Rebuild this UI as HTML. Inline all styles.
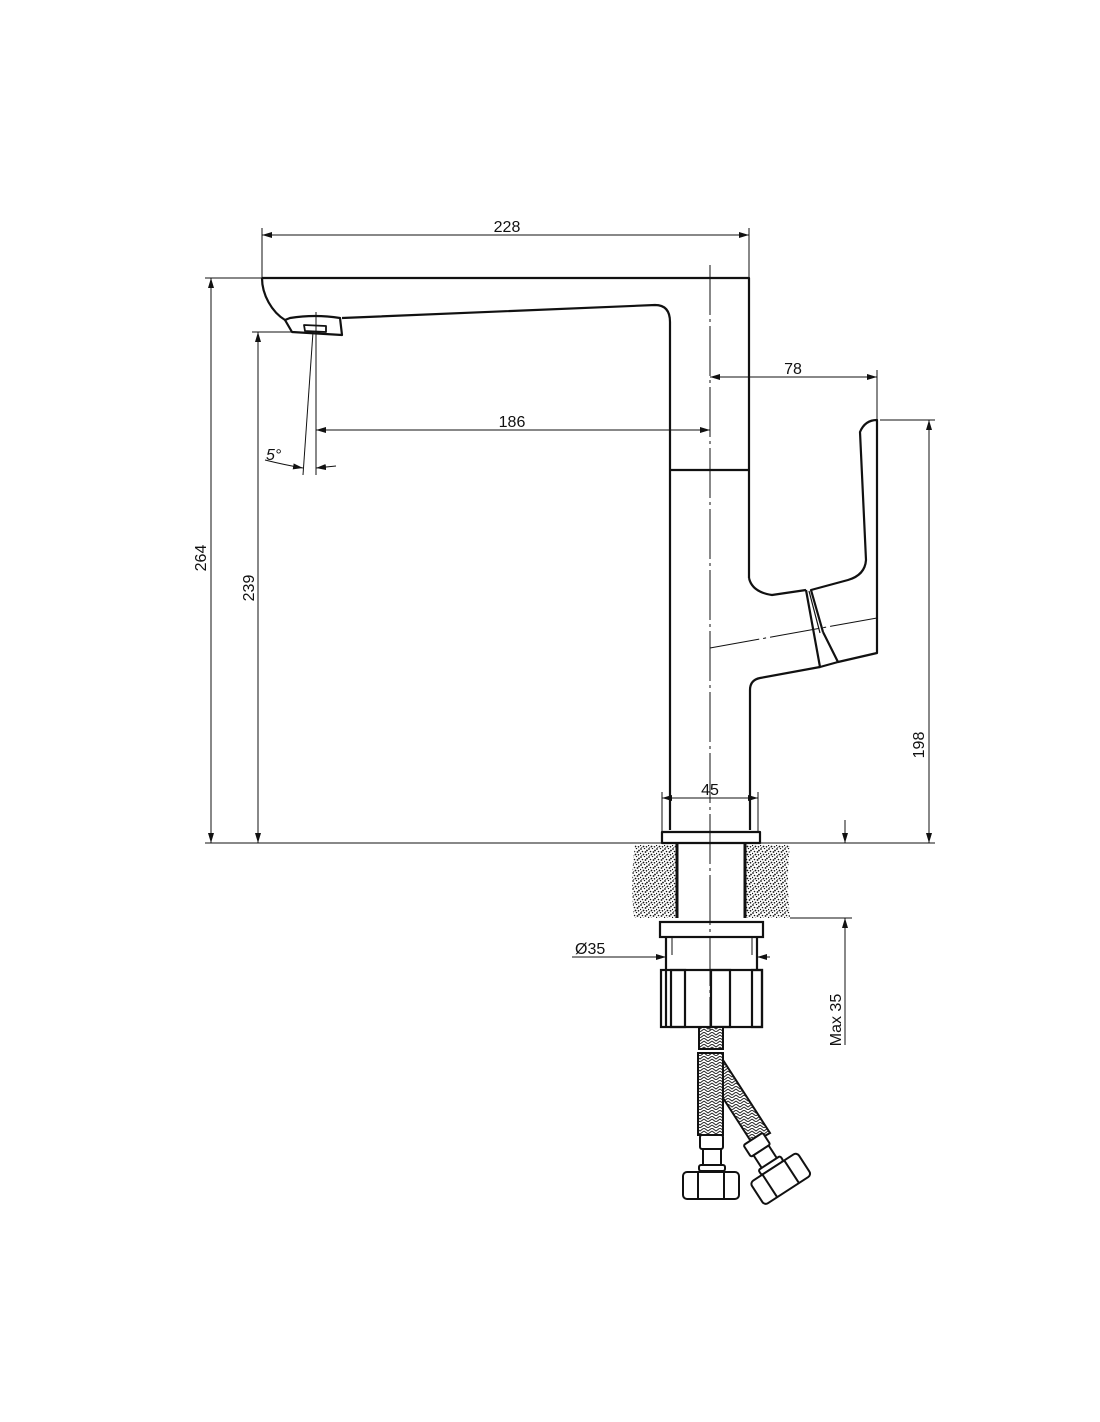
<!DOCTYPE html>
<html><head><meta charset="utf-8"><style>
html,body{margin:0;padding:0;background:#fff;}
svg{display:block;}
text{font-family:"Liberation Sans Narrow","Liberation Sans",sans-serif;font-size:16px;fill:#111;}
</style></head><body>
<svg width="1100" height="1422" viewBox="0 0 1100 1422" xmlns="http://www.w3.org/2000/svg">
<defs>
<marker id="a" viewBox="0 0 10 6" refX="10" refY="3" markerWidth="10" markerHeight="6" orient="auto-start-reverse" markerUnits="userSpaceOnUse"><path d="M0,0L10,3L0,6z" fill="#111"/></marker>
<pattern id="g" width="8" height="8" patternUnits="userSpaceOnUse">
<rect width="8" height="8" fill="#fff"/>
<circle cx="1" cy="1" r="0.9" fill="#111"/><circle cx="4.5" cy="0.5" r="0.7" fill="#111"/><circle cx="7" cy="2.5" r="0.9" fill="#111"/>
<circle cx="2.5" cy="3.5" r="0.8" fill="#111"/><circle cx="5.5" cy="4" r="0.9" fill="#111"/><circle cx="0.5" cy="5.5" r="0.7" fill="#111"/>
<circle cx="3.5" cy="6.5" r="0.9" fill="#111"/><circle cx="6.5" cy="6.8" r="0.8" fill="#111"/><circle cx="1.8" cy="7.5" r="0.5" fill="#111"/>
</pattern>
<pattern id="h" width="8" height="6" patternUnits="userSpaceOnUse">
<rect width="8" height="6" fill="#fff"/><path d="M0,0L4,3L8,0M0,3L4,6L8,3" stroke="#222" stroke-width="1" fill="none"/>
</pattern>
</defs>

<g fill="none" stroke="#111" stroke-width="2.2" stroke-linejoin="round">
<path d="M262,278 H749 V578"/>
<path d="M262,278 C262,295 272,312 285,320"/>
<path d="M342,318 L655,305 Q670,305 670,322 V830"/>
<path d="M670,470 H749"/>
<path d="M285,320 L290,318 Q315,314 340,318 L342,335 L292,332 Z"/>
<path d="M304,325 L305,331 L326,332 L326,326 Z" stroke-width="1.8"/>
<path d="M749,578 Q752,592 772,595 L806,590"/>
<path d="M806,590 L820,667 L838,662 L877,653 V420 Q865,420 860,432 L866,560 Q865,575 848,580 L811,590 L823,632"/>
<path d="M823,632 L838,662"/>
<path d="M820,667 L760,678 Q750,680 750,690 V830"/>
<path d="M809,591 L820,633" stroke-width="1.2"/>
<rect x="662" y="832" width="98" height="11"/>
</g>

<path d="M635,845 Q630,880 634,918 H676 V845 Z" fill="url(#g)" stroke="none"/>
<path d="M746,845 V918 H790 Q786,880 790,845 Z" fill="url(#g)" stroke="none"/>
<g fill="none" stroke="#111" stroke-width="2.2">
<line x1="677" y1="843" x2="677" y2="918" stroke-width="3"/>
<line x1="745" y1="843" x2="745" y2="918" stroke-width="3"/>
<rect x="660" y="922" width="103" height="15"/>
<path d="M666,937 V970 M757,937 V970"/>
<rect x="661" y="970" width="101" height="57"/>
<path d="M666,970 V1027"/>
<rect x="671" y="970" width="14" height="57"/>
<rect x="711" y="970" width="19" height="57"/>
<rect x="752" y="970" width="10" height="57"/>
<path d="M672,937 V955 M752,937 V955" stroke-width="1"/>
</g>

<g stroke="#111" stroke-width="2">
<rect x="699" y="1027" width="24" height="22" fill="url(#h)"/>
<rect x="698" y="1053" width="25" height="82" fill="url(#h)"/>
<path d="M723,1060 L770,1133 L752,1143 L723,1098 Z" fill="url(#h)"/>
<g fill="#fff">
<rect x="700" y="1135" width="23" height="14" rx="2"/>
<rect x="703" y="1149" width="18" height="18"/>
<rect x="699" y="1165" width="26" height="6" rx="2"/>
<rect x="683" y="1172" width="56" height="27" rx="4"/>
<path d="M698,1172 V1199 M724,1172 V1199" fill="none"/>
<g transform="translate(775,1170) rotate(-33)">
<rect x="-13" y="-38" width="23" height="14" rx="2"/>
<rect x="-10" y="-24" width="18" height="16"/>
<rect x="-14" y="-9" width="26" height="6" rx="2"/>
<rect x="-28" y="-3" width="56" height="27" rx="4"/>
<path d="M-13,-3 V24 M13,-3 V24" fill="none"/>
</g>
</g>
</g>

<g stroke="#111" stroke-width="1" fill="none" stroke-dasharray="50,4,3,4">
<line x1="710" y1="265" x2="710" y2="1030"/>
<line x1="710" y1="648" x2="877" y2="618"/>
</g>

<g stroke="#111" stroke-width="1" fill="none">
<line x1="262" y1="228" x2="262" y2="278"/><line x1="749" y1="228" x2="749" y2="278"/>
<line x1="262" y1="235" x2="749" y2="235" marker-start="url(#a)" marker-end="url(#a)"/>
<line x1="205" y1="278" x2="262" y2="278"/>
<line x1="211" y1="278" x2="211" y2="843" marker-start="url(#a)" marker-end="url(#a)"/>
<line x1="252" y1="332" x2="292" y2="332"/>
<line x1="258" y1="332" x2="258" y2="843" marker-start="url(#a)" marker-end="url(#a)"/>
<line x1="205" y1="843" x2="935" y2="843"/>
<line x1="316" y1="312" x2="316" y2="475"/>
<line x1="316" y1="430" x2="710" y2="430" marker-start="url(#a)" marker-end="url(#a)"/>
<line x1="313" y1="332" x2="303" y2="475"/>
<path d="M265,460 Q285,465 303,468" marker-end="url(#a)"/>
<line x1="336" y1="466" x2="316" y2="468" marker-end="url(#a)"/>
<line x1="877" y1="370" x2="877" y2="420"/>
<line x1="710" y1="377" x2="877" y2="377" marker-start="url(#a)" marker-end="url(#a)"/>
<line x1="880" y1="420" x2="935" y2="420"/>
<line x1="929" y1="420" x2="929" y2="843" marker-start="url(#a)" marker-end="url(#a)"/>
<line x1="662" y1="792" x2="662" y2="832"/><line x1="758" y1="792" x2="758" y2="832"/>
<line x1="662" y1="798" x2="758" y2="798" marker-start="url(#a)" marker-end="url(#a)"/>
<line x1="572" y1="957" x2="666" y2="957" marker-end="url(#a)"/>
<line x1="770" y1="957" x2="757" y2="957" marker-end="url(#a)"/>
<line x1="790" y1="918" x2="852" y2="918"/>
<line x1="845" y1="820" x2="845" y2="843" marker-end="url(#a)"/>
<line x1="845" y1="1045" x2="845" y2="918" marker-end="url(#a)"/>
</g>
<g>
<text x="507" y="232" text-anchor="middle">228</text>
<text x="512" y="427" text-anchor="middle">186</text>
<text x="793" y="374" text-anchor="middle">78</text>
<text x="710" y="795" text-anchor="middle">45</text>
<text x="575" y="954">Ø35</text>
<text x="266" y="460" font-style="italic">5°</text>
<text transform="translate(206,558) rotate(-90)" text-anchor="middle">264</text>
<text transform="translate(254,588) rotate(-90)" text-anchor="middle">239</text>
<text transform="translate(924,745) rotate(-90)" text-anchor="middle">198</text>
<text transform="translate(841,1020) rotate(-90)" text-anchor="middle">Max 35</text>
</g>
</svg>
</body></html>
